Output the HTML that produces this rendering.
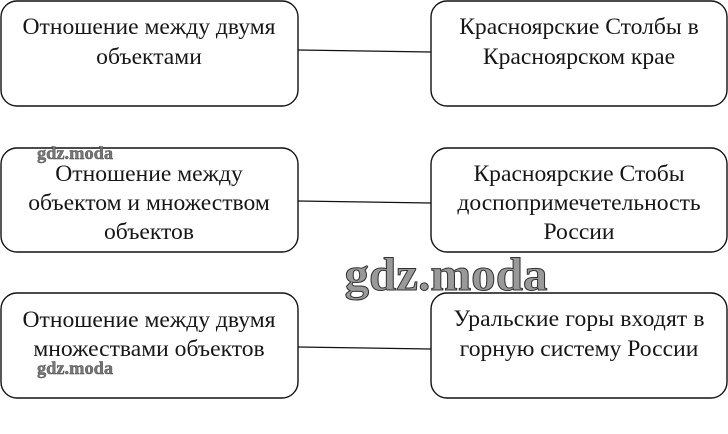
<!DOCTYPE html>
<html lang="ru">
<head>
<meta charset="utf-8">
<style>
html,body{margin:0;padding:0;background:#fff;width:728px;height:434px;overflow:hidden}
svg{display:block}
text{font-family:"Liberation Serif",serif;font-size:23.6px;fill:#161616;text-anchor:middle}
text.w{font-weight:bold;fill:#777;stroke:#444;stroke-width:.4;font-size:18.4px}
text.big{font-weight:bold;font-size:47px;fill:#999;stroke:#333;stroke-width:1}
rect{fill:#fff;stroke:#111;stroke-width:1.4}
line{stroke:#111;stroke-width:1.3}
</style>
</head>
<body>
<svg width="728" height="434" viewBox="0 0 728 434" xmlns="http://www.w3.org/2000/svg">
<line x1="298" y1="50" x2="431" y2="52"/>
<line x1="298" y1="201" x2="431" y2="203"/>
<line x1="298" y1="347" x2="431" y2="349"/>
<rect x="1" y="1" width="297" height="105" rx="16"/>
<rect x="431" y="1" width="296" height="105" rx="16"/>
<rect x="1" y="148" width="297" height="104" rx="16"/>
<rect x="431" y="148" width="296" height="104" rx="16"/>
<rect x="1" y="293" width="297" height="105" rx="16"/>
<rect x="431" y="293" width="296" height="105" rx="16"/>
<text x="149" y="34">Отношение между двумя</text>
<text x="149" y="64">объектами</text>
<text x="579" y="34">Красноярские Столбы в</text>
<text x="579" y="64">Красноярском крае</text>
<text x="149" y="181">Отношение между</text>
<text x="149" y="210">объектом и множеством</text>
<text x="149" y="239">объектов</text>
<text x="579" y="181">Красноярские Стобы</text>
<text x="579" y="210">доспопримечетельность</text>
<text x="579" y="239">России</text>
<text x="149" y="327">Отношение между двумя</text>
<text x="149" y="356">множествами объектов</text>
<text x="579" y="326" textLength="251" lengthAdjust="spacing">Уральские горы входят в</text>
<text x="579" y="356">горную систему России</text>
<text class="w" x="75" y="159">gdz.moda</text>
<text class="w" x="75" y="374">gdz.moda</text>
<text class="big" x="446" y="290" textLength="203" lengthAdjust="spacingAndGlyphs">gdz.moda</text>
</svg>
</body>
</html>
